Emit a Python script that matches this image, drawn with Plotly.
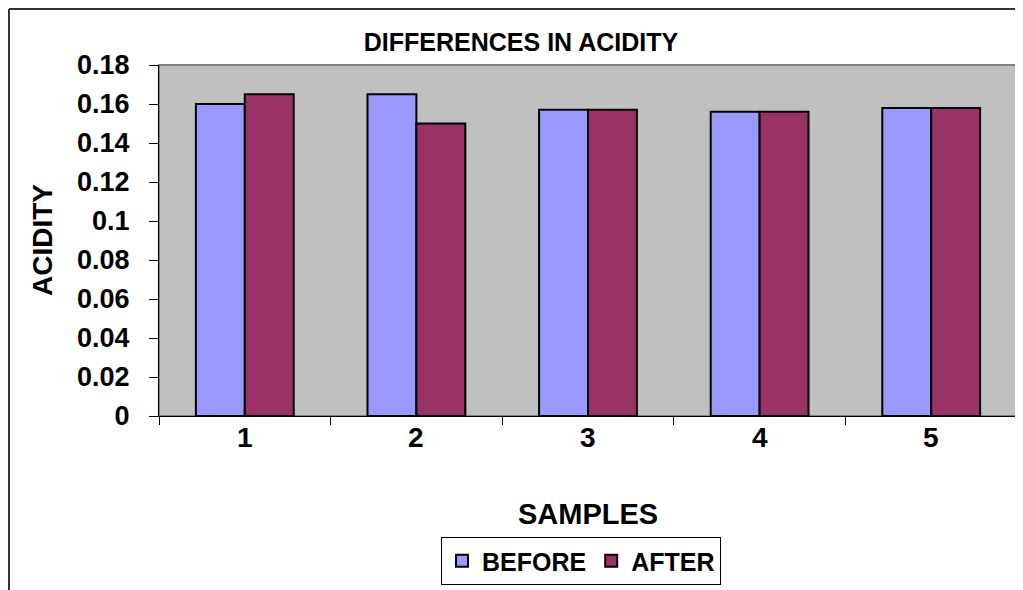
import plotly.graph_objects as go

samples = ["1", "2", "3", "4", "5"]
before = [0.160, 0.165, 0.157, 0.156, 0.158]
after = [0.165, 0.150, 0.157, 0.156, 0.158]
y_ticks = [0, 0.02, 0.04, 0.06, 0.08, 0.1, 0.12, 0.14, 0.16, 0.18]

W, H = 1023, 590
OFF = 8  # page body margin shifts the figure by this much
# plot area in page pixels: x 159..1017, y 65..416
L, T = 159 - OFF, 65 - OFF
R = W - (1017 - OFF)
B = H - (416 - OFF)
FONT = "Liberation Sans, Arial, sans-serif"

fig = go.Figure()
fig.add_trace(go.Bar(x=samples, y=before, name="<b>BEFORE</b>",
                     marker={"color": "#9999FF", "line": {"color": "black", "width": 2}}))
fig.add_trace(go.Bar(x=samples, y=after, name="<b>AFTER</b>",
                     marker={"color": "#993366", "line": {"color": "black", "width": 2}}))

pw, ph = W - L - R, H - T - B


def px(x):
    # page x -> paper
    return (x - OFF - L) / pw


def py(y):
    # page y -> paper
    return (H - B - (y - OFF)) / ph


fig.add_shape(type="rect", xref="paper", yref="paper", x0=0, y0=0, x1=1, y1=1,
              line={"color": "#808080", "width": 2}, layer="below")
# outer chart frame
fig.add_shape(type="line", xref="paper", yref="paper", x0=px(9), y0=py(9), x1=px(1040), y1=py(9),
              line={"color": "#333333", "width": 2})
fig.add_shape(type="line", xref="paper", yref="paper", x0=px(9), y0=py(9), x1=px(9), y1=py(610),
              line={"color": "#333333", "width": 2})

# category labels under the axis (index positions on the category axis)
for i, s in enumerate(samples):
    fig.add_annotation(text=f"<b>{s}</b>", x=i, xref="x", yref="paper", y=py(437),
                       showarrow=False, font={"size": 28}, xanchor="center", yanchor="middle")

fig.add_annotation(text="<b>SAMPLES</b>", xref="paper", yref="paper", x=px(588), y=py(514),
                   showarrow=False, font={"size": 29}, xanchor="center", yanchor="middle")
fig.add_annotation(text="<b>ACIDITY</b>", xref="paper", yref="paper", x=px(42), y=py(240),
                   showarrow=False, font={"size": 28}, textangle=-90,
                   xanchor="center", yanchor="middle")

fig.update_layout(
    width=W, height=H,
    margin={"l": L, "r": R, "t": T, "b": B},
    paper_bgcolor="white", plot_bgcolor="#C0C0C0",
    font={"family": FONT, "color": "black"},
    barmode="group", bargap=0.43, bargroupgap=0,
    title={"text": "<b>DIFFERENCES IN ACIDITY</b>", "x": (521 - OFF) / W, "xanchor": "center",
           "xref": "container", "y": 1 - (42 - OFF) / H, "yanchor": "middle", "yref": "container",
           "font": {"size": 25}},
    xaxis={"type": "category", "showgrid": False, "showline": True, "linecolor": "black",
           "linewidth": 1, "ticks": "outside", "tickson": "boundaries", "ticklen": 8,
           "tickcolor": "black", "showticklabels": False},
    yaxis={"range": [0, 0.18], "tickvals": y_ticks,
           "ticktext": [f"<b>{v:g}</b>" for v in y_ticks],
           "showgrid": False, "zeroline": False, "showline": True, "linecolor": "black",
           "linewidth": 1, "ticks": "outside", "ticklen": 9, "tickcolor": "black",
           "tickfont": {"size": 27}, "ticklabelstandoff": 14},
    legend={"orientation": "h", "x": px(581), "xanchor": "center", "y": py(561),
            "yanchor": "middle", "bordercolor": "black", "borderwidth": 1,
            "font": {"size": 25}, "bgcolor": "white", "itemwidth": 30},
    showlegend=True,
)

fig.write_html("out.html")
